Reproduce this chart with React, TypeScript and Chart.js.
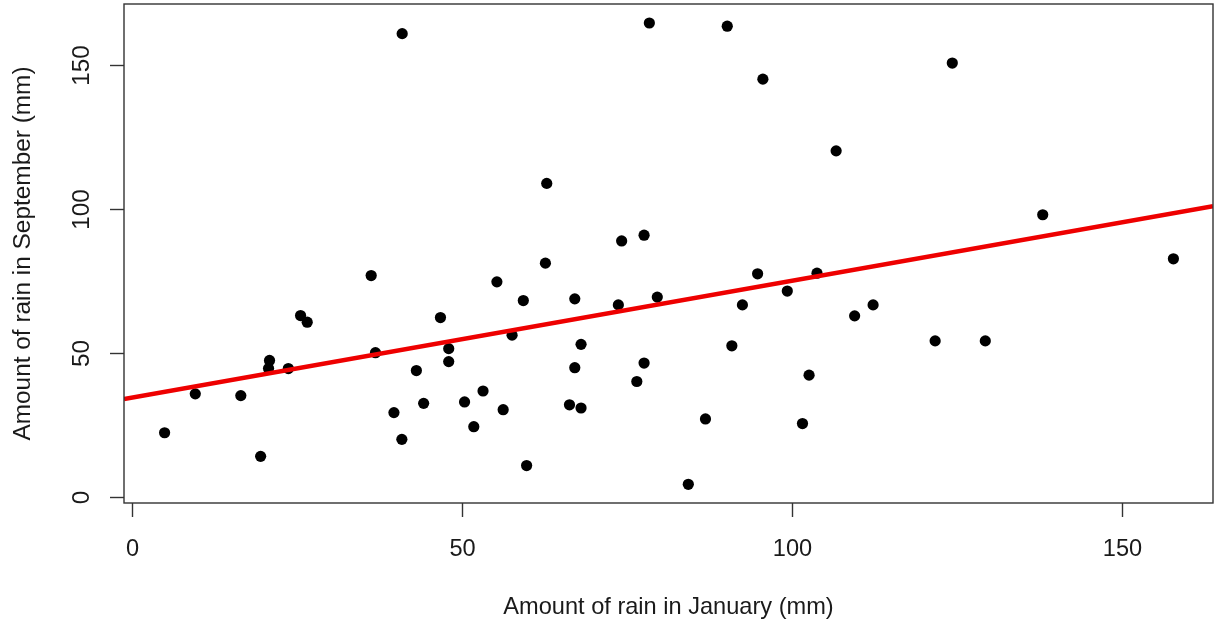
import React, { useEffect, useRef } from "react";
import { Chart, registerables } from "chart.js";

Chart.register(...registerables);

// Amount of rain in January (mm) – x values
const JANUARY = [
  4.95, 9.6, 16.5, 19.5, 20.85, 20.7, 23.7, 25.55, 26.56, 36.25,
  36.9, 39.7, 40.9, 40.95, 43.1, 44.2, 46.75, 48.0, 48.0, 50.4,
  51.8, 53.2, 55.3, 56.25, 57.6, 59.3, 59.8, 62.65, 62.85, 66.3,
  67.1, 67.1, 68.05, 68.05, 73.7, 74.2, 76.5, 77.6, 77.6, 78.4,
  79.6, 84.3, 86.9, 90.2, 90.9, 92.5, 94.8, 95.6, 99.3, 101.6,
  102.6, 103.8, 106.7, 109.5, 112.3, 121.7, 124.3, 129.3, 138.0, 157.8,
];
// Amount of rain in September (mm) – y values
const SEPTEMBER = [
  22.2, 35.7, 35.1, 14.0, 47.3, 44.5, 44.5, 62.9, 60.6, 76.8,
  50.0, 29.2, 19.9, 160.8, 43.8, 32.4, 62.2, 51.4, 46.9, 32.9,
  24.3, 36.7, 74.6, 30.2, 56.1, 68.1, 10.8, 81.1, 108.8, 31.9,
  68.7, 44.8, 52.9, 30.8, 66.6, 88.8, 40.0, 90.8, 46.4, 164.5,
  69.3, 4.3, 27.0, 163.4, 52.4, 66.6, 77.4, 145.0, 71.4, 25.4,
  42.2, 77.6, 120.1, 62.8, 66.6, 54.1, 150.6, 54.1, 97.9, 82.6,
];

const X_TICKS = [0, 50, 100, 150];
const Y_TICKS = [0, 50, 100, 150];

const X_MIN = -1.2;
const X_MAX = 163.8;
const Y_MIN = -2.2;
const Y_MAX = 171.1;

// fitted line y = INTERCEPT + SLOPE * x
const INTERCEPT = 34.4;
const SLOPE = 0.4056;

const X_TITLE = "Amount of rain in January (mm)";
const Y_TITLE = "Amount of rain in September (mm)";

const FONT_X = '23.6px "Liberation Sans", Arial, sans-serif';
const FONT_Y = '24.4px "Liberation Sans", Arial, sans-serif';
const TEXT_COLOR = "#1a1a1a";
const AXIS_COLOR = "#333333";

const rAxesPlugin = {
  id: "rAxes",
  afterDraw(chart: any) {
    const { ctx, chartArea, scales } = chart;
    const xs = scales.x;
    const ys = scales.y;
    ctx.save();
    ctx.strokeStyle = AXIS_COLOR;
    ctx.lineWidth = 1.4;
    ctx.strokeRect(
      chartArea.left,
      chartArea.top,
      chartArea.right - chartArea.left,
      chartArea.bottom - chartArea.top
    );
    ctx.fillStyle = TEXT_COLOR;
    ctx.textAlign = "center";
    ctx.textBaseline = "middle";
    // x ticks
    ctx.font = FONT_X;
    X_TICKS.forEach((t) => {
      const px = Math.round(xs.getPixelForValue(t)) + 0.5;
      ctx.beginPath();
      ctx.moveTo(px, chartArea.bottom);
      ctx.lineTo(px, chartArea.bottom + 14);
      ctx.stroke();
      ctx.fillText(String(t), px, chartArea.bottom + 46);
    });
    const cx = (chartArea.left + chartArea.right) / 2;
    const cy = (chartArea.top + chartArea.bottom) / 2;
    ctx.fillText(X_TITLE, cx, chartArea.bottom + 104);
    // y ticks
    ctx.font = FONT_Y;
    Y_TICKS.forEach((t) => {
      const py = Math.round(ys.getPixelForValue(t)) + 0.5;
      ctx.beginPath();
      ctx.moveTo(chartArea.left - 14, py);
      ctx.lineTo(chartArea.left, py);
      ctx.stroke();
      ctx.save();
      ctx.translate(chartArea.left - 42, py);
      ctx.rotate(-Math.PI / 2);
      ctx.fillText(String(t), 0, 0);
      ctx.restore();
    });
    ctx.save();
    ctx.translate(23, cy);
    ctx.rotate(-Math.PI / 2);
    ctx.fillText(Y_TITLE, 0, 0);
    ctx.restore();
    ctx.restore();
  },
};

export default function App() {
  const canvasRef = useRef<HTMLCanvasElement | null>(null);

  useEffect(() => {
    document.body.style.margin = "0";
    const canvas = canvasRef.current;
    if (!canvas) return;
    const points = JANUARY.map((x, i) => ({ x, y: SEPTEMBER[i] }));
    const linePts = [
      { x: X_MIN, y: INTERCEPT + SLOPE * X_MIN },
      { x: X_MAX, y: INTERCEPT + SLOPE * X_MAX },
    ];
    const chart = new Chart(canvas, {
      type: "scatter",
      data: {
        datasets: [
          {
            type: "line",
            label: "fit",
            data: linePts,
            borderColor: "#ee0000",
            borderWidth: 4.5,
            pointRadius: 0,
            fill: false,
            order: 0,
          } as any,
          {
            label: "rain",
            data: points,
            backgroundColor: "#000000",
            borderColor: "#000000",
            pointRadius: 5.6,
            pointBorderWidth: 0,
            order: 1,
          },
        ],
      },
      options: {
        responsive: false,
        animation: false,
        layout: {
          autoPadding: false,
          padding: { left: 124, right: 2, top: 4, bottom: 125 },
        },
        plugins: {
          legend: { display: false },
          tooltip: { enabled: false },
        },
        scales: {
          x: { type: "linear", min: X_MIN, max: X_MAX, display: false },
          y: { type: "linear", min: Y_MIN, max: Y_MAX, display: false },
        },
      },
      plugins: [rAxesPlugin],
    });
    return () => chart.destroy();
  }, []);

  return (
    <div style={{ width: 1215, height: 628, background: "#fff" }}>
      <canvas ref={canvasRef} width={1215} height={628} style={{ display: "block" }} />
    </div>
  );
}
